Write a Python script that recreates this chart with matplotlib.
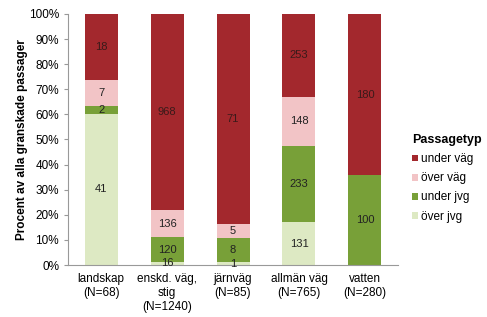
import matplotlib.pyplot as plt
import numpy as np

plt.rcParams['font.family'] = ['Liberation Sans', 'DejaVu Sans']

categories = ['landskap\n(N=68)', 'enskd. väg,\nstig\n(N=1240)', 'järnväg\n(N=85)',
              'allmän väg\n(N=765)', 'vatten\n(N=280)']
over_jvg = [41, 16, 1, 131, 0]
under_jvg = [2, 120, 8, 233, 100]
over_vag = [7, 136, 5, 148, 0]
under_vag = [18, 968, 71, 253, 180]

series = [('över jvg', over_jvg, '#dde9c3'),
          ('under jvg', under_jvg, '#78a038'),
          ('över väg', over_vag, '#f2c4c6'),
          ('under väg', under_vag, '#a3282d')]

counts = np.array([s[1] for s in series], dtype=float)
totals = counts.sum(axis=0)
pct = counts / totals * 100

fig = plt.figure(figsize=(4.87, 3.17), dpi=100)
ax = fig.add_axes([0.14, 0.164, 0.677, 0.792])
x = np.arange(len(categories))
bottom = np.zeros(len(categories))
handles = []
for (name, vals, color), p in zip(series, pct):
    b = ax.bar(x, p, 0.5, bottom=bottom, color=color, label=name)
    handles.append(b)
    for xi, v, pv, bt in zip(x, vals, p, bottom):
        if v > 0:
            ax.text(xi, bt + pv / 2, str(v), ha='center', va='center', fontsize=8,
                    color='#3a1a1a' if color == '#a3282d' else '#222222')
    bottom += p

ax.set_xlim(-0.5, len(categories) - 0.5)
ax.set_ylim(0, 100)
ax.set_yticks(range(0, 101, 10))
ax.set_yticklabels(['{}%'.format(v) for v in range(0, 101, 10)], fontsize=8.5)
ax.set_xticks(x)
ax.set_xticklabels(categories, fontsize=8.5)
ax.tick_params(axis='x', length=0, pad=6)
ax.tick_params(axis='y', length=3, color='#999999')
for s in ['top', 'right']:
    ax.spines[s].set_visible(False)
for s in ['left', 'bottom']:
    ax.spines[s].set_color('#999999')
ax.set_ylabel('Procent av alla granskade passager', fontsize=8.5, fontweight='bold', labelpad=1)

leg = ax.legend(handles[::-1], [s[0] for s in series][::-1], title='Passagetyp',
                loc='center left', bbox_to_anchor=(1.01, 0.345), frameon=False,
                fontsize=8.5, handlelength=0.5, handleheight=0.5, handletextpad=0.3,
                labelspacing=0.6)
leg.get_title().set_fontweight('bold')
leg.get_title().set_fontsize(9)
leg._legend_box.align = 'left'

fig.savefig('out.png', dpi=100)
